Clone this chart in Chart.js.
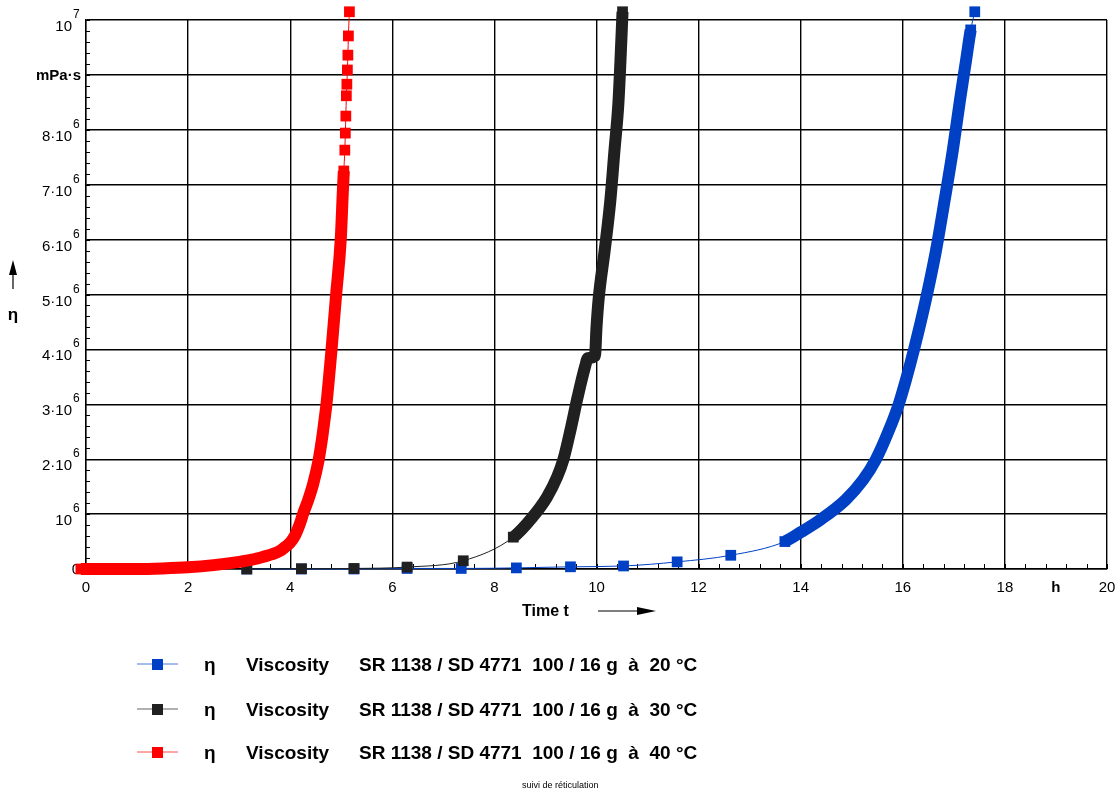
<!DOCTYPE html>
<html>
<head>
<meta charset="utf-8">
<title>suivi de réticulation</title>
<script src="https://cdn.jsdelivr.net/npm/chart.js@4.4.0/dist/chart.umd.min.js"></script>
<style>
  html, body { margin: 0; padding: 0; background: #fff; }
  #wrap { width: 1117px; height: 789px; }
</style>
</head>
<body>
<div id="wrap"><canvas id="viscChart" width="1117" height="789"></canvas></div>
<script>
// =========================================================
// DATA (time in h, viscosity in 10^6 mPa·s)
// =========================================================
const blue20Time = [3.15, 4.22, 5.25, 6.29, 7.35, 8.43, 9.49, 10.53, 11.58, 12.63, 13.69, 14.0, 14.39, 14.88, 15.22, 15.47, 15.73, 15.92, 16.06, 16.22, 16.45, 16.65, 16.82, 16.98, 17.12, 17.24, 17.33, 17.41];
const blue20Visc = [0, 0, 0, 0.01, 0.01, 0.02, 0.04, 0.055, 0.13, 0.25, 0.5, 0.67, 0.9, 1.26, 1.62, 1.99, 2.53, 3.0, 3.44, 4.0, 4.9, 5.8, 6.72, 7.63, 8.54, 9.27, 9.82, 10.15];

const black30Time = [3.15, 4.22, 5.25, 6.29, 7.39, 8.37, 8.75, 9.03, 9.23, 9.35, 9.49, 9.63, 9.78, 9.83, 9.97, 10.0, 10.04, 10.16, 10.27, 10.35, 10.43, 10.47, 10.51];
const black30Visc = [0, 0.005, 0.01, 0.035, 0.15, 0.58, 0.95, 1.31, 1.68, 1.99, 2.53, 3.13, 3.7, 3.84, 3.88, 4.4, 4.9, 5.8, 6.7, 7.6, 8.5, 9.27, 10.15];

const red40Time = [-0.1, 0.5, 1.0, 1.5, 2.0, 2.5, 3.0, 3.25, 3.5, 3.65, 3.8, 3.9, 4.0, 4.1, 4.2, 4.25, 4.35, 4.45, 4.55, 4.62, 4.67, 4.71, 4.81, 4.90, 4.99, 5.03, 5.05, 5.07, 5.08, 5.09, 5.10, 5.11, 5.12, 5.13, 5.14, 5.16];
const red40Visc = [0, 0, 0, 0.01, 0.03, 0.07, 0.13, 0.17, 0.23, 0.27, 0.33, 0.4, 0.48, 0.62, 0.85, 1.0, 1.25, 1.55, 1.95, 2.35, 2.7, 3.0, 4.0, 5.0, 6.0, 6.85, 7.25, 7.63, 7.94, 8.25, 8.62, 8.83, 9.09, 9.36, 9.71, 10.15];

const xTickValues = [0, 2, 4, 6, 8, 10, 12, 14, 16, 18, 20];
const xTickLabels = ['0', '2', '4', '6', '8', '10', '12', '14', '16', '18', '20'];
const xUnit = 'h';
const xUnitAt = 19;
const xTitle = 'Time t';

const yTickValues = [0, 1, 2, 3, 4, 5, 6, 7, 8, 9, 10];
const yTickBase = ['0', '10', '2·10', '3·10', '4·10', '5·10', '6·10', '7·10', '8·10', 'mPa·s', '10'];
const yTickExp = ['', '6', '6', '6', '6', '6', '6', '6', '6', '', '7'];
const yUnit = 'mPa·s';
const yTitle = 'η';

const seriesSymbol = 'η';
const seriesName = 'Viscosity';
const seriesDesc = [
    'SR 1138 / SD 4771  100 / 16 g  à  20 °C',
    'SR 1138 / SD 4771  100 / 16 g  à  30 °C',
    'SR 1138 / SD 4771  100 / 16 g  à  40 °C'
];
const caption = 'suivi de réticulation';

// =========================================================
// STYLE
// =========================================================
const FONT = '"Liberation Sans", Arial, Helvetica, sans-serif';
const COLORS = ['#0040c4', '#202020', '#ff0000'];
const BAND = 12;   // thick band where measurements overlap

function toPoints(xs, ys) {
    return xs.map((t, i) => ({ x: t, y: ys[i] }));
}

// segments between index a and b drawn as a thick band, others thin
function bandBetween(a, b) {
    return ctx => (ctx.p0DataIndex >= a && ctx.p1DataIndex <= b) ? BAND : 1;
}

function makeSet(i, xs, ys, bandFrom, bandTo, order) {
    return {
        label: seriesSymbol + ' ' + seriesName + ' ' + seriesDesc[i],
        data: toPoints(xs, ys),
        borderColor: COLORS[i],
        backgroundColor: COLORS[i],
        borderWidth: 1,
        borderJoinStyle: 'round',
        borderCapStyle: 'butt',
        cubicInterpolationMode: 'monotone',
        pointStyle: 'rect',
        // markers inside the band are swallowed by it
        pointRadius: ctx => (ctx.dataIndex > bandFrom && ctx.dataIndex < bandTo) ? 0 : 7.6,
        pointBorderWidth: 0,
        clip: false,
        order: order,
        segment: { borderWidth: bandBetween(bandFrom, bandTo) }
    };
}

// =========================================================
// AXIS DECORATION, LEGEND, TITLES
// =========================================================
function seg(ctx, x1, y1, x2, y2) {
    ctx.beginPath(); ctx.moveTo(x1, y1); ctx.lineTo(x2, y2); ctx.stroke();
}

const decor = {
    id: 'decor',
    beforeDatasetsDraw(chart) {
        const { ctx, chartArea: a, scales: { x, y } } = chart;
        ctx.save();
        ctx.strokeStyle = '#000';
        ctx.lineWidth = 1;

        // minor ticks
        for (let i = 0; i <= 50; i++) {
            const px = Math.round(x.getPixelForValue(i * 0.4)) + 0.5;
            seg(ctx, px, a.bottom, px, a.bottom - 5);
        }
        for (let i = 0; i <= 50; i++) {
            const py = Math.round(y.getPixelForValue(i * 0.2)) + 0.5;
            seg(ctx, a.left - 1, py, a.left + 4, py);
        }

        // y tick labels
        ctx.fillStyle = '#000';
        yTickValues.forEach((v, i) => {
            const py = y.getPixelForValue(v);
            ctx.textBaseline = 'alphabetic';
            if (yTickBase[i] === yUnit) {
                ctx.font = 'bold 15px ' + FONT;
                ctx.textAlign = 'right';
                ctx.fillText(yTickBase[i], a.left - 5, py + 5);
            } else if (yTickExp[i]) {
                ctx.font = '15px ' + FONT;
                ctx.textAlign = 'right';
                ctx.fillText(yTickBase[i], a.left - 14, py + 11);
                ctx.font = '12px ' + FONT;
                ctx.textAlign = 'left';
                ctx.fillText(yTickExp[i], a.left - 13, py - 2);
            } else {
                ctx.font = '15px ' + FONT;
                ctx.textAlign = 'right';
                ctx.fillText(yTickBase[i], a.left - 6, py + 5);
            }
        });

        // x tick labels
        ctx.font = '15px ' + FONT;
        ctx.textAlign = 'center';
        ctx.textBaseline = 'alphabetic';
        xTickValues.forEach((v, i) => {
            ctx.fillText(xTickLabels[i], x.getPixelForValue(v), a.bottom + 23);
        });
        ctx.font = 'bold 15px ' + FONT;
        ctx.fillText(xUnit, x.getPixelForValue(xUnitAt), a.bottom + 23);
        ctx.restore();

        // let the end markers that poke out of the frame be drawn too
        chart._plotArea = a;
        chart.chartArea = Object.assign({}, a, { top: a.top - 30, left: a.left - 30 });
    },
    afterDatasetsDraw(chart) {
        if (chart._plotArea) chart.chartArea = chart._plotArea;
    },
    afterDraw(chart) {
        const { ctx } = chart;
        ctx.save();
        ctx.fillStyle = '#000';
        ctx.strokeStyle = '#000';
        ctx.textBaseline = 'alphabetic';

        // x title + arrow
        ctx.font = 'bold 16px ' + FONT;
        ctx.textAlign = 'left';
        ctx.fillText(xTitle, 522, 616);
        ctx.lineWidth = 1.2;
        seg(ctx, 598, 611, 640, 611);
        ctx.beginPath();
        ctx.moveTo(637, 607); ctx.lineTo(656, 611); ctx.lineTo(637, 615); ctx.closePath();
        ctx.fill();

        // y title + arrow
        ctx.font = 'bold 17px ' + FONT;
        ctx.textAlign = 'center';
        ctx.fillText(yTitle, 13, 320);
        seg(ctx, 13, 289, 13, 272);
        ctx.beginPath();
        ctx.moveTo(9, 275); ctx.lineTo(13, 260); ctx.lineTo(17, 275); ctx.closePath();
        ctx.fill();

        // legend
        const rows = [664, 709, 752];
        rows.forEach((yc, i) => {
            ctx.strokeStyle = COLORS[i];
            ctx.globalAlpha = 0.7;
            ctx.lineWidth = 1;
            seg(ctx, 137, yc, 178, yc);
            ctx.globalAlpha = 1;
            ctx.fillStyle = COLORS[i];
            ctx.fillRect(152, yc - 5, 11, 11);
            ctx.fillStyle = '#000';
            ctx.font = 'bold 19px ' + FONT;
            ctx.textAlign = 'left';
            ctx.fillText(seriesSymbol, 204, yc + 7);
            ctx.fillText(seriesName, 246, yc + 7);
            ctx.fillText(seriesDesc[i], 359, yc + 7);
        });

        // caption
        ctx.font = '9px ' + FONT;
        ctx.textAlign = 'left';
        ctx.fillText(caption, 522, 788);
        ctx.restore();
    }
};

// =========================================================
// CHART
// =========================================================
const chart = new Chart(document.getElementById('viscChart').getContext('2d'), {
    type: 'line',
    data: {
        datasets: [
            makeSet(0, blue20Time, blue20Visc, 10, 26, 2),
            makeSet(1, black30Time, black30Visc, 5, black30Time.length - 1, 1),
            makeSet(2, red40Time, red40Visc, 0, 26, 0)
        ]
    },
    options: {
        responsive: false,
        animation: false,
        layout: { padding: { top: 20, right: 10, bottom: 220, left: 0 } },
        plugins: { legend: { display: false }, tooltip: { enabled: false } },
        scales: {
            x: {
                type: 'linear', min: 0, max: 20,
                ticks: { display: false, stepSize: 2 },
                grid: { color: '#000', lineWidth: 1.4, drawTicks: false },
                border: { color: '#000', width: 1.4 },
                afterFit: s => { s.height = 0; }
            },
            y: {
                type: 'linear', min: 0, max: 10,
                ticks: { display: false, stepSize: 1 },
                grid: { color: '#000', lineWidth: 1.4, drawTicks: false },
                border: { color: '#000', width: 1.4 },
                afterFit: s => { s.width = 86; }
            }
        }
    },
    plugins: [decor]
});
</script>
</body>
</html>
